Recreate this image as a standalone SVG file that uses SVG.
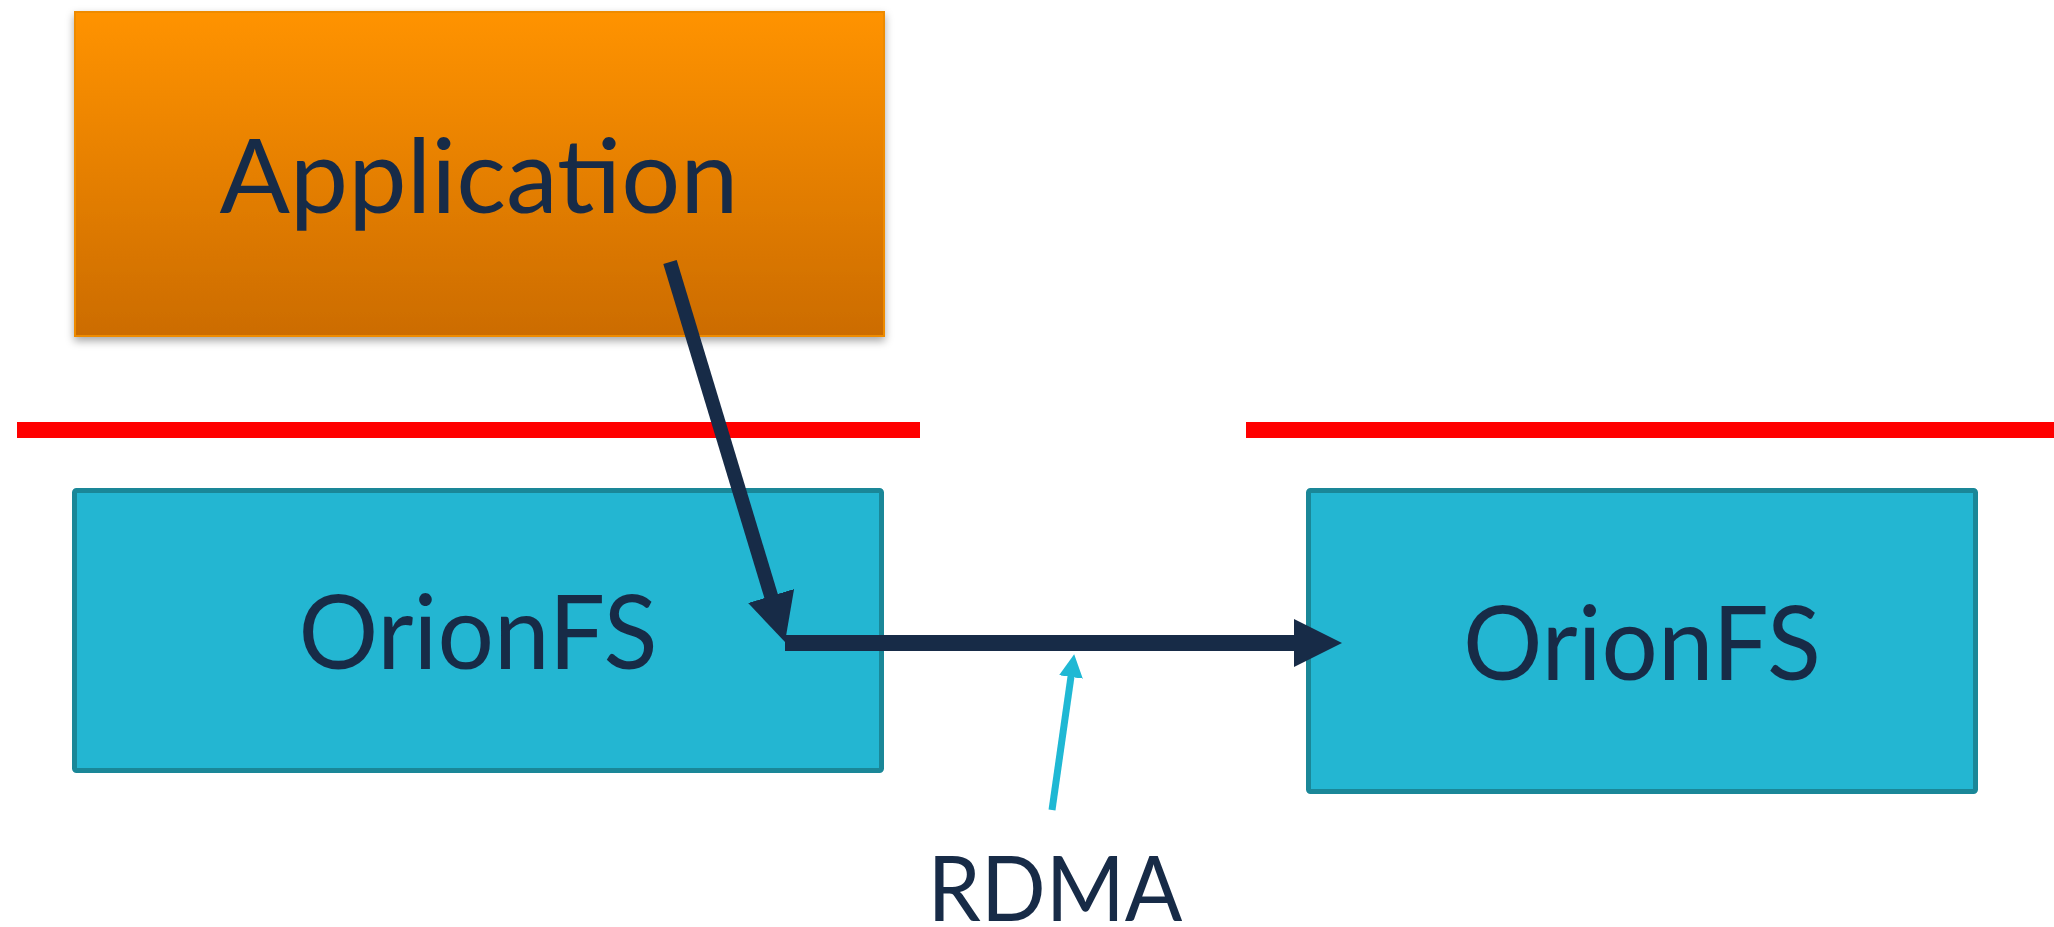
<svg xmlns="http://www.w3.org/2000/svg" width="2054" height="927" viewBox="0 0 2054 927">
  <style>
    .label { font-family: Lato, "Open Sans", "Liberation Sans", sans-serif; fill: #172B47; text-anchor: middle; }
    .fs { fill: #23B6D2; stroke: #1A8798; stroke-width: 5; }
    .divider { fill: #FF0000; }
    .flow { stroke: #172B47; fill: none; stroke-linecap: butt; }
    .rdma { stroke: #1FB8D4; fill: none; stroke-width: 7; }
  </style>
  <defs>
    <linearGradient id="appFill" x1="0" y1="0" x2="0" y2="1">
      <stop offset="0" stop-color="#FF9300"/>
      <stop offset="1" stop-color="#CC6C00"/>
    </linearGradient>
    <filter id="shadow" x="-5%" y="-5%" width="110%" height="115%">
      <feDropShadow dx="0" dy="4" stdDeviation="4" flood-color="#000" flood-opacity="0.35"/>
    </filter>
    <marker id="headDark" markerUnits="userSpaceOnUse" markerWidth="48" markerHeight="48" refX="10" refY="24" orient="auto">
      <path d="M0,0 L48,24 L0,48 Z" fill="#172B47"/>
    </marker>
    <marker id="headCyan" markerUnits="userSpaceOnUse" markerWidth="24" markerHeight="24" refX="4" refY="12" orient="auto">
      <path d="M0,0 L23,12 L0,24 Z" fill="#1FB8D4"/>
    </marker>
  </defs>

  <rect width="2054" height="927" fill="#FFFFFF"/>

  <!-- layer dividers -->
  <g id="dividers">
    <rect class="divider" x="17" y="422" width="903" height="16"/>
    <rect class="divider" x="1246" y="422" width="808" height="16"/>
  </g>

  <g id="application">
    <rect x="75" y="12" width="809" height="324" fill="url(#appFill)" stroke="#EE8B00" stroke-width="2" filter="url(#shadow)"/>
    <text class="label" x="479" y="213" font-size="103" textLength="519" lengthAdjust="spacingAndGlyphs">Application</text>
  </g>

  <g id="orionfs-local">
    <rect class="fs" x="74.5" y="490.5" width="807" height="280" rx="2"/>
    <text class="label" x="478" y="669" font-size="103" textLength="359" lengthAdjust="spacingAndGlyphs">OrionFS</text>
  </g>

  <g id="orionfs-remote">
    <rect class="fs" x="1308.5" y="490.5" width="667" height="301" rx="2"/>
    <text class="label" x="1642" y="680" font-size="103" textLength="358" lengthAdjust="spacingAndGlyphs">OrionFS</text>
  </g>

  <g id="rdma-label">
    <text class="label" x="1055" y="921" font-size="92" textLength="255" lengthAdjust="spacingAndGlyphs">RDMA</text>
  </g>

  <g id="connectors">
    <path class="flow" d="M670,262 L774,605.6" stroke-width="14" marker-end="url(#headDark)"/>
    <path class="flow" d="M785,643 L1304,643" stroke-width="16" marker-end="url(#headDark)"/>
    <path class="rdma" d="M1052,810 L1071.5,673" marker-end="url(#headCyan)"/>
  </g>
</svg>
